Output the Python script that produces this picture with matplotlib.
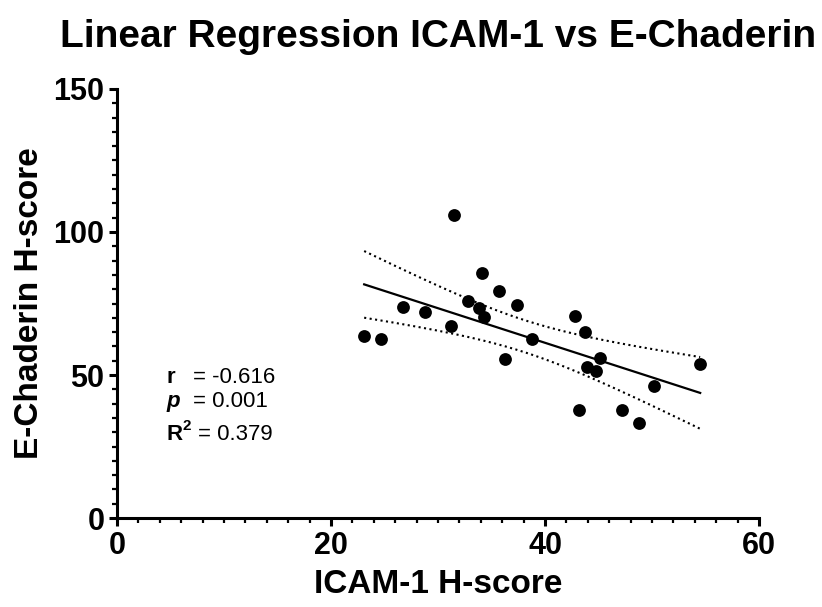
import numpy as np
import matplotlib
matplotlib.use("Agg")
import matplotlib.pyplot as plt
from matplotlib.ticker import MultipleLocator

# ICAM-1 vs E-Chaderin H-scores
icam1 = [31.5, 34.1, 35.7, 32.8, 26.7, 33.8, 37.4, 28.8, 34.3, 42.8, 31.2, 43.7,
         23.1, 24.7, 38.8, 36.3, 45.1, 43.9, 44.8, 54.5, 50.2, 43.2, 47.2, 48.8]
ecad = [105.9, 85.6, 79.5, 75.9, 73.9, 73.4, 74.5, 71.9, 70.4, 70.5, 67.0, 65.0,
        63.5, 62.5, 62.5, 55.6, 56.1, 52.9, 51.5, 53.7, 46.1, 37.8, 37.8, 33.1]

stats_labels = ["r", "p", "R"]
stats_values = ["= -0.616", "= 0.001", "= 0.379"]
T_CRIT = 2.074  # t(0.975, df=22)

plt.rcParams.update({"font.family": ["Liberation Sans", "DejaVu Sans"],
                     "font.weight": "bold"})

x = np.array(icam1); y = np.array(ecad)
slope, icpt = np.polyfit(x, y, 1)
xs = np.linspace(x.min(), x.max(), 200)
fit = icpt + slope * xs
n = len(x)
resid = y - (icpt + slope * x)
s = np.sqrt((resid ** 2).sum() / (n - 2))
se = s * np.sqrt(1 / n + (xs - x.mean()) ** 2 / ((x - x.mean()) ** 2).sum())

fig = plt.figure(figsize=(8.22, 6.07), dpi=100)
ax = fig.add_axes([0.1423, 0.1466, 0.7811, 0.7068])

ax.scatter(x, y, s=85, color="black", zorder=3, linewidths=0)
ax.plot(xs, fit, color="black", lw=1.6)
ax.plot(xs, fit + T_CRIT * se, color="black", lw=1.5, ls=":")
ax.plot(xs, fit - T_CRIT * se, color="black", lw=1.5, ls=":")

ax.set_xlim(0, 60); ax.set_ylim(0, 150)
ax.xaxis.set_major_locator(MultipleLocator(20)); ax.xaxis.set_minor_locator(MultipleLocator(2))
ax.yaxis.set_major_locator(MultipleLocator(50)); ax.yaxis.set_minor_locator(MultipleLocator(5))
for sp in ["top", "right"]:
    ax.spines[sp].set_visible(False)
for sp in ["left", "bottom"]:
    ax.spines[sp].set_linewidth(2.2)
ax.tick_params(which="major", length=6, width=2.2, labelsize=22, pad=3)
ax.tick_params(which="minor", length=3.5, width=1.6)
for lab in ax.get_xticklabels() + ax.get_yticklabels():
    lab.set_fontweight("bold")

ax.set_xlabel("ICAM-1 H-score", fontsize=24, fontweight="bold", labelpad=6)
ax.set_ylabel("E-Chaderin H-score", fontsize=24, fontweight="bold", labelpad=6)
ax.set_title("Linear Regression ICAM-1 vs E-Chaderin", fontsize=28,
             fontweight="bold", pad=30)

# statistics block
rows_y = [47.1, 38.7, 27.2]
ax.text(4.67, rows_y[0], stats_labels[0], fontsize=16, fontweight="bold")
ax.text(7.1, rows_y[0], stats_values[0], fontsize=16, fontweight="normal")
ax.text(4.67, rows_y[1], stats_labels[1], fontsize=16, fontweight="bold", style="italic")
ax.text(7.1, rows_y[1], stats_values[1], fontsize=16, fontweight="normal")
ax.text(4.67, rows_y[2], stats_labels[2], fontsize=16, fontweight="bold")
ax.text(6.1, rows_y[2] + 3.5, "2", fontsize=11, fontweight="bold")
ax.text(7.55, rows_y[2], stats_values[2], fontsize=16, fontweight="normal")

fig.savefig("out.png", dpi=100)
